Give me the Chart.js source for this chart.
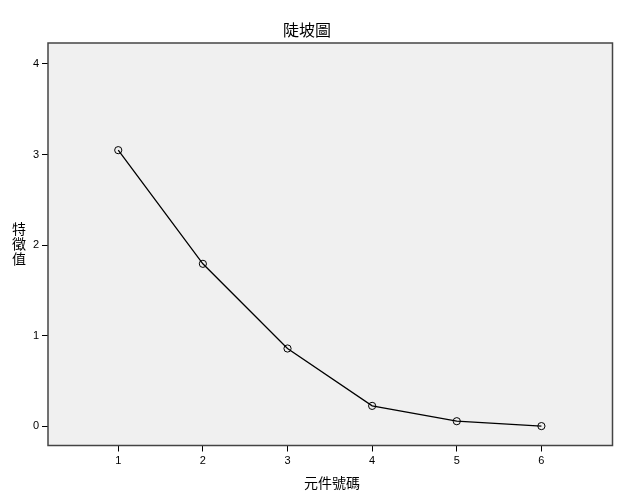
<!DOCTYPE html>
<html>
<head>
<meta charset="utf-8">
<script src="https://cdn.jsdelivr.net/npm/chart.js@4"></script>
<style>
html,body{margin:0;padding:0;background:#fff;}
#wrap{width:629px;height:499px;position:relative;}
</style>
</head>
<body>
<div id="wrap"><canvas id="c" width="629" height="499"></canvas></div>
<script>
const chartTitle = '陡坡圖';
const xTitle = '元件號碼';
const yTitle = ['特', '徵', '值'];
const components = [1, 2, 3, 4, 5, 6];
const eigenvalues = [3.048, 1.794, 0.860, 0.227, 0.058, 0.004];
const xTicks = [1, 2, 3, 4, 5, 6];
const yTicks = [0, 1, 2, 3, 4];

const cjk = '"Noto Sans CJK TC", "Noto Sans CJK SC", sans-serif';

const frame = {
  id: 'frame',
  beforeDatasetsDraw(chart) {
    const {ctx, chartArea: a} = chart;
    ctx.save();
    ctx.fillStyle = '#f0f0f0';
    ctx.fillRect(a.left, a.top, a.right - a.left, a.bottom - a.top);
    ctx.restore();
  },
  afterDatasetsDraw(chart) {
    const {ctx, chartArea: a} = chart;
    ctx.save();
    ctx.strokeStyle = '#444';
    ctx.lineWidth = 1.5;
    ctx.strokeRect(a.left, a.top, a.right - a.left, a.bottom - a.top);
    ctx.restore();
  },
  afterDraw(chart) {
    const {ctx} = chart;
    ctx.save();
    ctx.fillStyle = '#000';
    ctx.textAlign = 'center';
    ctx.textBaseline = 'middle';
    ctx.font = '16px ' + cjk;
    ctx.fillText(chartTitle, 307, 30);
    ctx.font = '14px ' + cjk;
    ctx.fillText(xTitle, 332, 483);
    ctx.font = '14px ' + cjk;
    yTitle.forEach((ch, i) => ctx.fillText(ch, 19, 229 + i * 15));
    ctx.restore();
  }
};

new Chart(document.getElementById('c'), {
  type: 'scatter',
  data: {
    datasets: [{
      data: components.map((c, i) => ({x: c, y: eigenvalues[i]})),
      showLine: true,
      borderColor: '#000',
      borderWidth: 1.3,
      pointRadius: 3.6,
      pointHoverRadius: 3.6,
      pointBorderWidth: 1,
      pointBorderColor: '#000',
      pointBackgroundColor: 'rgba(0,0,0,0)',
      tension: 0
    }]
  },
  options: {
    responsive: false,
    animation: false,
    devicePixelRatio: 1,
    layout: {padding: {top: 43, right: 16.5, bottom: 0, left: 0}},
    plugins: {legend: {display: false}, tooltip: {enabled: false}, title: {display: false}},
    scales: {
      x: {
        type: 'linear',
        min: 0.17,
        max: 6.84,
        afterBuildTicks: s => { s.ticks = xTicks.map(v => ({value: v})); },
        afterFit: s => { s.height = 53.5; },
        grid: {display: true, drawOnChartArea: false, drawTicks: true, tickLength: 6, color: '#000', lineWidth: 1},
        border: {display: false},
        ticks: {color: '#000', font: {family: '"Liberation Sans", Arial, sans-serif', size: 11}, padding: 3, maxRotation: 0}
      },
      y: {
        type: 'linear',
        min: -0.21,
        max: 4.23,
        afterBuildTicks: s => { s.ticks = yTicks.map(v => ({value: v})); },
        afterFit: s => { s.width = 48; },
        grid: {display: true, drawOnChartArea: false, drawTicks: true, tickLength: 6, color: '#000', lineWidth: 1},
        border: {display: false},
        ticks: {color: '#000', font: {family: '"Liberation Sans", Arial, sans-serif', size: 11}, padding: 3}
      }
    }
  },
  plugins: [frame]
});
</script>
</body>
</html>
